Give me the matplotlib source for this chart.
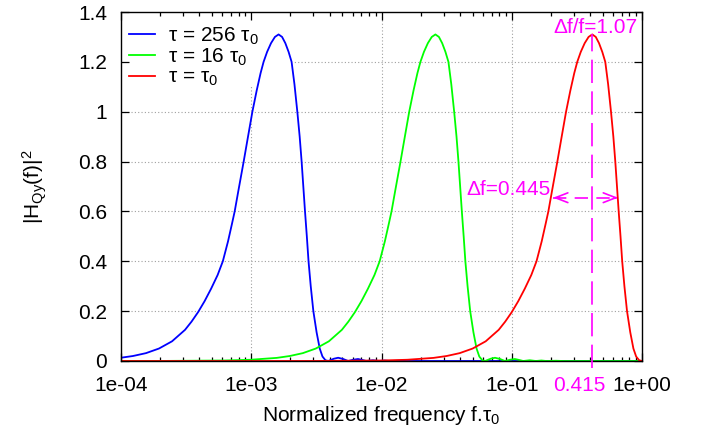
import matplotlib
matplotlib.use("Agg")
import matplotlib.pyplot as plt
import matplotlib.ticker as mticker
import matplotlib.patches as mpatches
import numpy as np

plt.rcParams['font.family'] = ['Liberation Sans', 'DejaVu Sans']
plt.rcParams['mathtext.fontset'] = 'custom'
plt.rcParams['mathtext.rm'] = 'Liberation Sans'
plt.rcParams['mathtext.it'] = 'Liberation Sans:italic'
plt.rcParams['mathtext.sf'] = 'Liberation Sans'
FS = 15

# |H(f)|^2, as a function of f.tau
ftau = [1e-4, 0.001, 0.00316, 0.01, 0.0158, 0.0251, 0.0316, 0.0398, 0.0501,
        0.0631, 0.0794, 0.0891, 0.1, 0.1122, 0.1259, 0.1413, 0.1549, 0.1698,
        0.182, 0.191, 0.2042, 0.2239, 0.2399, 0.2612, 0.2818, 0.302, 0.3184,
        0.3388, 0.3631, 0.389, 0.415, 0.4416, 0.4677, 0.4955, 0.5224, 0.5495,
        0.5781, 0.6026, 0.6237, 0.6427, 0.6622, 0.6839, 0.7047, 0.7328,
        0.7674, 0.8128, 0.859, 0.9016, 0.9506, 1.0,
        1.1, 1.19, 1.3, 1.42, 1.55, 1.69, 1.83, 1.96, 2.2, 2.45, 2.7, 2.95,
        3.5, 4.0, 256.0]
h2 = [0.0, 0.00002, 0.0002, 0.002, 0.005, 0.0125, 0.02, 0.0315, 0.05,
      0.079, 0.125, 0.158, 0.196, 0.24, 0.29, 0.345, 0.4, 0.48,
      0.55, 0.6, 0.685, 0.8, 0.89, 1.0, 1.085, 1.155, 1.2,
      1.24, 1.275, 1.3, 1.31, 1.3, 1.275, 1.24, 1.2, 1.11,
      1.0, 0.9, 0.8, 0.7, 0.6, 0.5, 0.4, 0.3,
      0.2, 0.115, 0.05, 0.018, 0.003, 0.0,
      0.009, 0.013, 0.008, 0.0, 0.005, 0.008, 0.004, 0.0, 0.003, 0.0, 0.002, 0.0,
      0.001, 0.0, 0.0]

taus = [256, 16, 1]
labels = ['τ = 256 τ$_\\mathrm{0}$', 'τ = 16 τ$_\\mathrm{0}$', 'τ = τ$_\\mathrm{0}$']
colors = ['#0000ff', '#00ff00', '#ff0000']

f_peak = 0.415
half_level = 0.655
df_lo, df_hi = 0.2075, 0.655
peak_level = 1.31

fig = plt.figure(figsize=(7.02, 4.34), dpi=100)
ax = fig.add_axes([121 / 702, 1 - 361 / 434, 521 / 702, 349 / 434])

x = np.array(ftau)
for tau, lab, col in zip(taus, labels, colors):
    ax.plot(x / tau, h2, color=col, lw=1.3, label=lab, zorder=2)

ax.set_xscale('log')
ax.set_xlim(1e-4, 1)
ax.set_ylim(0, 1.4)
ax.xaxis.set_major_locator(mticker.LogLocator(base=10, numticks=10))
ax.xaxis.set_minor_locator(mticker.LogLocator(base=10, subs=np.arange(2, 10), numticks=20))
ax.xaxis.set_major_formatter(mticker.FuncFormatter(lambda v, p: '%.0e' % v))
ax.xaxis.set_minor_formatter(mticker.NullFormatter())
ax.yaxis.set_major_locator(mticker.MultipleLocator(0.2))
ax.yaxis.set_major_formatter(mticker.FuncFormatter(lambda v, p: '%g' % round(v, 1)))

ax.tick_params(which='both', direction='in', top=True, right=True, labelsize=FS, width=0.9)
ax.tick_params(which='major', length=6)
ax.tick_params(which='minor', length=3)
ax.tick_params(axis='x', pad=11)
ax.tick_params(axis='y', pad=10)
for s in ax.spines.values():
    s.set_linewidth(1.0)

# dotted grid under everything
for xv in [1e-3, 1e-2, 1e-1]:
    ax.axvline(xv, color='#a0a0a0', lw=0.8, ls=(0, (1, 2)), zorder=0.5)
for yv in np.arange(0.2, 1.3, 0.2):
    ax.axhline(yv, color='#a0a0a0', lw=0.8, ls=(0, (1, 2)), zorder=0.5)

# key area kept clear of grid
ax.add_patch(mpatches.Rectangle((0, 0.788), 0.33, 0.212, transform=ax.transAxes,
                                fc='white', ec='none', zorder=1))
leg = ax.legend(loc='upper left', bbox_to_anchor=(0.0154, 0.962), frameon=False,
                fontsize=FS, handlelength=1.25, handletextpad=0.6,
                borderaxespad=0, borderpad=0, labelspacing=0.0)
leg.set_zorder(1.5)

# annotations
mag = '#ff00ff'
ax.plot([f_peak, f_peak], [-0.028, peak_level], color=mag, lw=1.2,
        ls=(0, (14, 5)), clip_on=False, zorder=3)
ax.plot([df_lo, df_hi], [half_level, half_level], color=mag, lw=1.2,
        ls=(0, (8, 5)), zorder=3)
for xe, xs in [(df_lo, df_lo * 1.12), (df_hi, df_hi / 1.07)]:
    ax.annotate('', xy=(xe, half_level), xytext=(xs, half_level),
                arrowprops=dict(arrowstyle='->,head_length=0.9,head_width=0.35',
                                color=mag, lw=1.2, shrinkA=0, shrinkB=0,
                                mutation_scale=10), zorder=3)
ax.annotate('Δf/f=1.07', xy=(f_peak, 1.316), xytext=(2, 0), textcoords='offset points',
            ha='center', va='baseline', color=mag, fontsize=FS)
ax.annotate('Δf=0.445', xy=(df_lo, 0.666), xytext=(-2, 0), textcoords='offset points',
            ha='right', va='baseline', color=mag, fontsize=FS)
ax.annotate('0.415', xy=(f_peak, 0), xycoords=('data', 'axes fraction'),
            xytext=(-9.4, -11), textcoords='offset points', ha='center', va='top',
            color=mag, fontsize=FS)

ax.set_xlabel('Normalized frequency f.τ$_\\mathrm{0}$', fontsize=FS, labelpad=6)
ax.set_ylabel('|H$_\\mathrm{Qy}$(f)|$^\\mathrm{2}$', fontsize=FS)
ax.yaxis.set_label_coords(-0.138, 0.5)

fig.savefig('out.png', dpi=100)
